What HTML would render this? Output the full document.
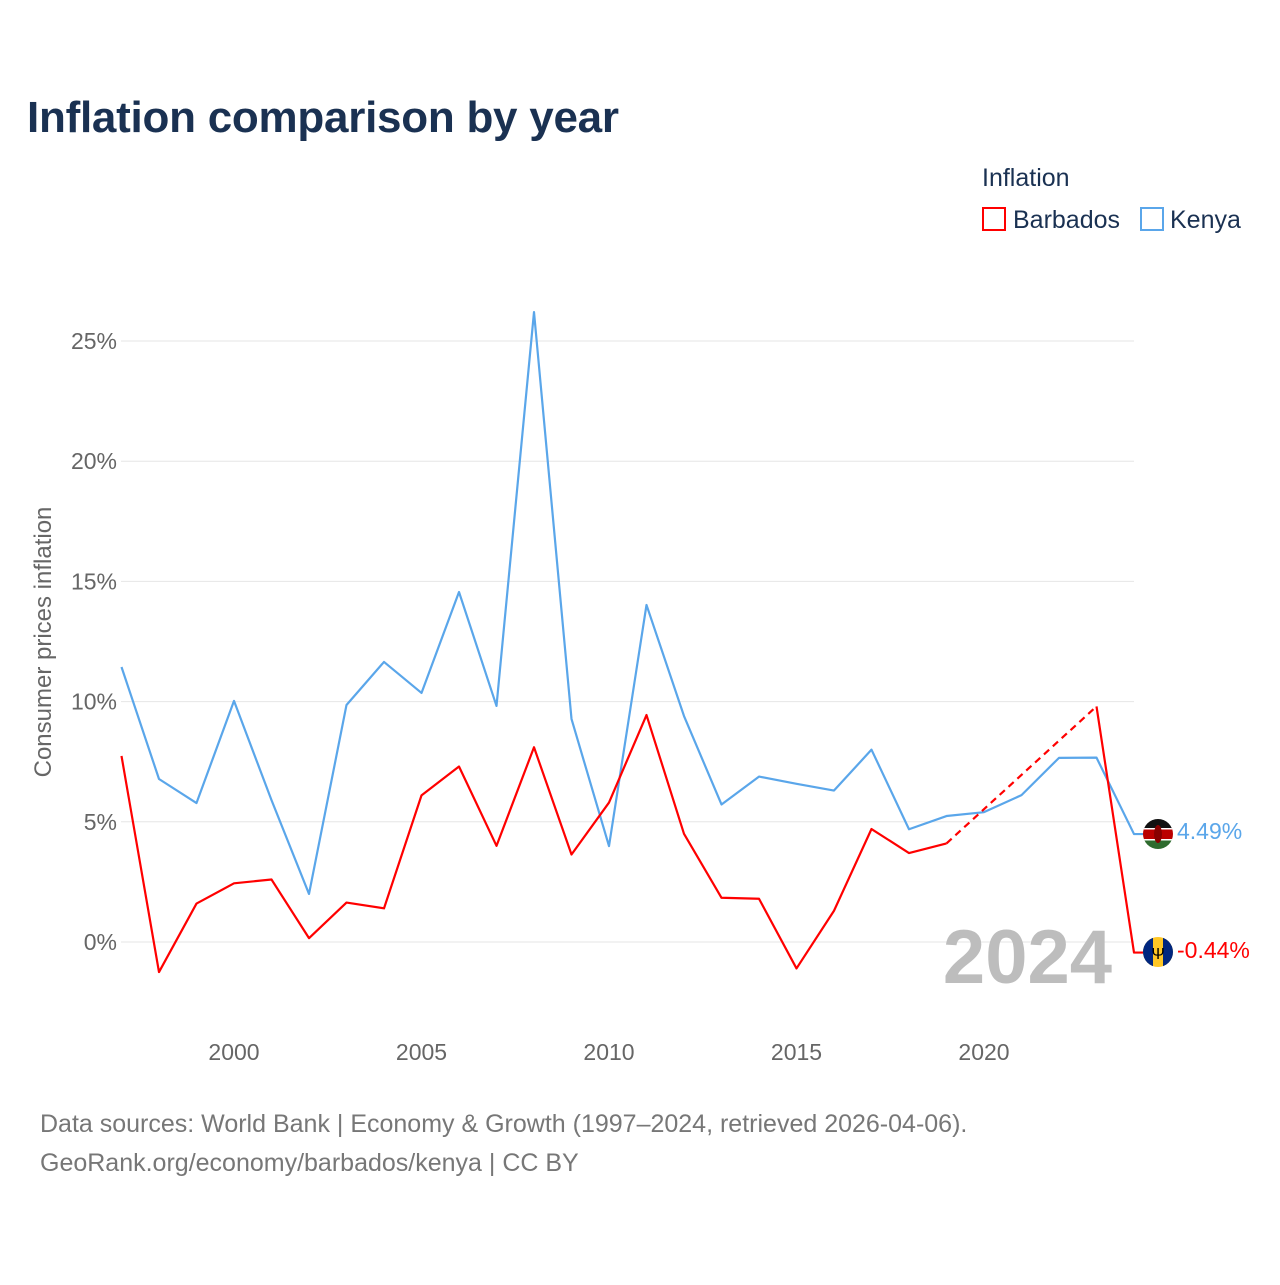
<!DOCTYPE html>
<html><head><meta charset="utf-8">
<style>
html,body{margin:0;padding:0;background:#fff;}
body{width:1280px;height:1280px;overflow:hidden;font-family:"Liberation Sans",sans-serif;}
</style></head>
<body>
<svg id="chart" width="1280" height="1280" xmlns="http://www.w3.org/2000/svg" font-family="Liberation Sans, sans-serif">
<text x="27" y="132" font-size="44" font-weight="bold" fill="#1a3152" textLength="592">Inflation comparison by year</text>
<g>
<text x="982" y="186" font-size="25" fill="#1a3152">Inflation</text>
<rect x="983" y="208" width="22" height="22" fill="none" stroke="#ff0000" stroke-width="2"/>
<text x="1013" y="228" font-size="25" fill="#1a3152">Barbados</text>
<rect x="1141" y="208" width="22" height="22" fill="none" stroke="#5aa6ea" stroke-width="2"/>
<text x="1170" y="228" font-size="25" fill="#1a3152">Kenya</text>
</g>
<g id="grid"></g>
<g id="yticks"></g>
<g id="xticks"></g>
<text transform="translate(51,642) rotate(-90)" text-anchor="middle" font-size="24" fill="#666">Consumer prices inflation</text>
<text x="1112" y="983" text-anchor="end" font-size="76" font-weight="bold" fill="#bdbdbd">2024</text>
<g id="series"></g>
<g>
<clipPath id="ck"><circle cx="1158" cy="834" r="15"/></clipPath>
<g clip-path="url(#ck)"><rect x="1143" y="819" width="30" height="10" fill="#111"/><rect x="1143" y="829" width="30" height="10" fill="#b00"/><rect x="1143" y="839" width="30" height="10" fill="#2e6b2e"/><rect x="1143" y="828" width="30" height="1.5" fill="#fff"/><rect x="1143" y="839" width="30" height="1.5" fill="#fff"/><ellipse cx="1158" cy="834" rx="4" ry="9" fill="#800"/></g>
</g>
<g>
<clipPath id="cb"><circle cx="1158" cy="952" r="15"/></clipPath>
<g clip-path="url(#cb)"><rect x="1143" y="937" width="30" height="30" fill="#ffc726"/><rect x="1143" y="937" width="10" height="30" fill="#00267f"/><rect x="1163" y="937" width="10" height="30" fill="#00267f"/><text x="1158" y="959" text-anchor="middle" font-size="16" fill="#000">Ψ</text></g>
</g>
<text x="1177" y="839" font-size="23" fill="#5aa6ea">4.49%</text>
<text x="1177" y="958" font-size="23" fill="#ff0000">-0.44%</text>
<text x="40" y="1132" font-size="25" fill="#777">Data sources: World Bank | Economy &amp; Growth (1997–2024, retrieved 2026-04-06).</text>
<text x="40" y="1171" font-size="25" fill="#777">GeoRank.org/economy/barbados/kenya | CC BY</text>
</svg>
<script>
const years = [1997,1998,1999,2000,2001,2002,2003,2004,2005,2006,2007,2008,2009,2010,2011,2012,2013,2014,2015,2016,2017,2018,2019,2020,2021,2022,2023,2024];
const kenya = [11.44,6.78,5.78,10.03,5.9,2.0,9.86,11.65,10.36,14.56,9.82,26.2,9.28,3.99,14.02,9.4,5.72,6.88,6.58,6.3,8.0,4.69,5.24,5.4,6.11,7.66,7.67,4.49];
const barbados = [7.74,-1.25,1.6,2.44,2.6,0.16,1.64,1.4,6.1,7.3,4.0,8.1,3.64,5.8,9.44,4.5,1.84,1.8,-1.1,1.3,4.7,3.7,4.1,null,null,null,9.8,-0.44];
const yTicks = [0,5,10,15,20,25];
const xTicks = [2000,2005,2010,2015,2020];
const NS="http://www.w3.org/2000/svg";
function xs(y){return 121.5+(y-1997)*37.5;}
function ys(v){return 942-v*24.04;}
function mk(tag,attrs,parent){const e=document.createElementNS(NS,tag);for(const k in attrs)e.setAttribute(k,attrs[k]);parent.appendChild(e);return e;}
const grid=document.getElementById('grid'),yt=document.getElementById('yticks'),xt=document.getElementById('xticks'),ser=document.getElementById('series');
yTicks.forEach(t=>{
  const l=mk('line',{x1:121,x2:1134,y1:ys(t),y2:ys(t),stroke:'#e6e6e6','stroke-width':1},grid);
  
  
  const tx=mk('text',{x:117,y:ys(t)+8,'text-anchor':'end','font-size':23,fill:'#666'},yt);
  tx.textContent=t+'%';
  
  
});
xTicks.forEach(t=>{
  const tx=mk('text',{x:xs(t),y:1060,'text-anchor':'middle','font-size':23,fill:'#666'},xt);
  tx.textContent=t;
  
  
});
function draw(vals,color,name){
  let segs=[],cur=[],prevIdx=null,gaps=[];
  vals.forEach((v,i)=>{
    if(v===null){if(cur.length){segs.push(cur);cur=[];}return;}
    if(prevIdx!==null&&i-prevIdx>1)gaps.push([prevIdx,i]);
    cur.push([xs(years[i]),ys(v)]);prevIdx=i;
  });
  if(cur.length)segs.push(cur);
  const last=vals[vals.length-1];
  segs[segs.length-1].push([xs(years[years.length-1])+10,ys(last)]);
  segs.forEach(s=>{
    const p=mk('polyline',{points:s.map(q=>q.join(',')).join(' '),fill:'none',stroke:color,'stroke-width':2.2,'stroke-linejoin':'round'},ser);
    
    
  });
  gaps.forEach(g=>{
    const d=mk('line',{x1:xs(years[g[0]]),y1:ys(vals[g[0]]),x2:xs(years[g[1]]),y2:ys(vals[g[1]]),stroke:color,'stroke-width':2.2,'stroke-dasharray':'7,5'},ser);
    
    
  });
}
draw(kenya,'#5aa6ea','kenya');
draw(barbados,'#ff0000','barbados');
</script>
</body></html>
